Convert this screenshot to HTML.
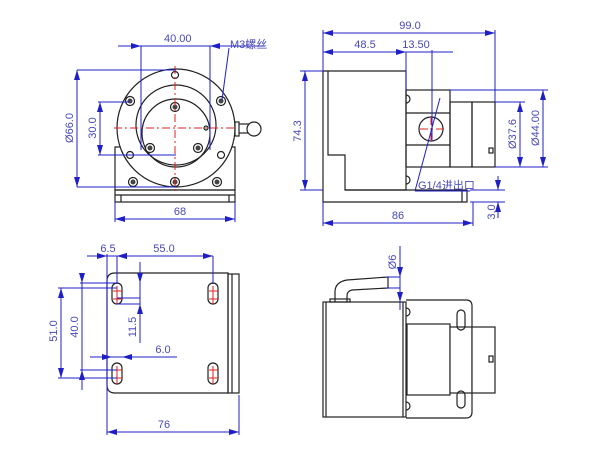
<!DOCTYPE html>
<html><head><meta charset="utf-8"><style>
html,body{margin:0;padding:0;background:#fff;}
svg{display:block;}
text{font-family:"Liberation Sans","Noto Sans CJK SC",sans-serif;font-size:11px;fill:#4848b8;}
</style></head><body>
<svg width="602" height="458" viewBox="0 0 602 458" xmlns="http://www.w3.org/2000/svg">
<defs>
<marker id="a" viewBox="0 0 10 6" refX="10" refY="3" markerWidth="10" markerHeight="6" orient="auto-start-reverse" markerUnits="userSpaceOnUse"><path d="M0,0 L10,3 L0,6z" fill="#1f1fc8"/></marker>
</defs>

<!-- drawing geometry -->
<g stroke="#222" stroke-width="1.2" fill="none">
<rect x="115" y="147" width="120" height="43"/>
<line x1="115" y1="195" x2="235" y2="195"/>
<rect x="115" y="190" width="120" height="12"/>
<line x1="121" y1="195" x2="121" y2="202"/><line x1="229" y1="195" x2="229" y2="202"/>
<circle cx="176" cy="128" r="59" fill="#fff"/>
<circle cx="176" cy="125" r="40"/>
<circle cx="176" cy="133" r="34"/>
<rect x="235" y="122" width="4" height="14"/>
<line x1="239" y1="124" x2="252" y2="124"/><line x1="239" y1="133" x2="252" y2="133"/>
<circle cx="254" cy="129" r="7" fill="#fff"/>
<circle cx="130" cy="155" r="3.5"/><circle cx="221" cy="155" r="3.5"/><circle cx="175" cy="75" r="3.5"/>
<circle cx="206" cy="128" r="2"/>
</g>
<g stroke="#222" stroke-width="1.2" fill="#fff">
<circle cx="130" cy="101" r="4.5"/><circle cx="221" cy="101" r="4.5"/><circle cx="175" cy="107" r="4.5"/>
<circle cx="150" cy="148" r="4.5"/><circle cx="198" cy="148" r="4.5"/>
<circle cx="133" cy="182" r="4.5"/><circle cx="175" cy="182" r="4.5"/><circle cx="217" cy="182" r="4.5"/>
</g>
<g fill="#444">
<circle cx="130" cy="101" r="2.5"/><circle cx="221" cy="101" r="2.5"/><circle cx="175" cy="107" r="2.5"/>
<circle cx="150" cy="148" r="2.5"/><circle cx="198" cy="148" r="2.5"/>
<circle cx="133" cy="182" r="2.5"/><circle cx="175" cy="182" r="2.5"/><circle cx="217" cy="182" r="2.5"/>
</g>
<g stroke="#222" stroke-width="1.2" fill="none">
<path d="M323,71 L406,71 L406,190 L345,190 L345,155 L328,155 L328,71"/>
<line x1="323" y1="71" x2="323" y2="190"/>
<path d="M323,190 L323,202 L467,202 L467,190 L345,190"/>
<line x1="462" y1="190" x2="462" y2="202"/>
<rect x="406" y="90" width="44" height="77"/>
<line x1="406" y1="113" x2="450" y2="113"/><line x1="406" y1="145" x2="450" y2="145"/>
<rect x="450" y="102" width="22" height="65"/>
<rect x="472" y="102" width="23" height="65"/>
<rect x="489" y="148" width="4" height="5"/>
<circle cx="431" cy="129" r="12"/>
<path d="M406,95 a3,3 0 0 1 0,8"/><path d="M406,176 a3,3 0 0 1 0,8"/>
<path d="M115,273 L228,273 L228,393 L115,393 Q107,393 107,385 L107,281 Q107,273 115,273Z"/>
<rect x="228" y="274" width="11" height="119"/>
<line x1="232" y1="274" x2="232" y2="393"/>
<rect x="112" y="283" width="10" height="21" rx="5"/>
<rect x="208" y="283" width="10" height="21" rx="5"/>
<rect x="112" y="363" width="10" height="21" rx="5"/>
<rect x="208" y="363" width="10" height="21" rx="5"/>
<path d="M406,300 L466,300 Q472,300 472,306 L472,412 Q472,418 466,418 L406,418"/>
<rect x="323" y="302" width="83" height="115" fill="#fff"/>
<line x1="326" y1="302" x2="326" y2="417"/><line x1="403" y1="302" x2="403" y2="417"/>
<rect x="407" y="324" width="43" height="71" fill="#fff"/>
<rect x="450" y="327" width="22" height="66" fill="#fff"/>
<rect x="472" y="327" width="23" height="66" fill="#fff"/>
<rect x="489" y="356" width="4" height="6"/>
<rect x="457" y="310" width="8" height="20" rx="4"/>
<rect x="457" y="391" width="8" height="17" rx="4"/>
<path d="M335,302 L335,292 Q335,282 347,280 L388,277 L388,288 L352,290 Q347,291 347,296 L347,302"/>
<rect x="330" y="299" width="20" height="3"/>
<path d="M406,308 a3,3 0 0 1 0,8"/><path d="M406,402 a3,3 0 0 1 0,8"/>
</g>

<!-- red center lines -->
<g stroke="#e02020" stroke-width="1" stroke-dasharray="8,3,2,3" fill="none">
<line x1="114" y1="128" x2="237" y2="128"/>
<line x1="175" y1="66" x2="175" y2="192"/>
<line x1="420" y1="129" x2="444" y2="129"/>
<line x1="431" y1="117" x2="431" y2="142"/>
</g>
<g stroke="#e02020" stroke-width="1" fill="none">
<line x1="117" y1="286" x2="117" y2="304"/><line x1="113" y1="291" x2="122" y2="291"/><line x1="113" y1="299" x2="122" y2="299"/>
<line x1="213" y1="286" x2="213" y2="304"/><line x1="209" y1="291" x2="218" y2="291"/><line x1="209" y1="299" x2="218" y2="299"/>
<line x1="117" y1="366" x2="117" y2="384"/><line x1="113" y1="370" x2="122" y2="370"/><line x1="113" y1="378" x2="122" y2="378"/>
<line x1="213" y1="366" x2="213" y2="384"/><line x1="209" y1="370" x2="218" y2="370"/><line x1="209" y1="378" x2="218" y2="378"/>
</g>

<g stroke="#1f1fc8" stroke-width="1" fill="none">
<line x1="118" y1="46" x2="227" y2="46"/>
<line x1="126" y1="46" x2="141" y2="46" marker-end="url(#a)"/>
<line x1="225" y1="46" x2="210" y2="46" marker-end="url(#a)"/>
<line x1="141" y1="46" x2="141" y2="150"/>
<line x1="210" y1="46" x2="210" y2="150"/>
<line x1="227" y1="46" x2="265" y2="46"/>
<line x1="229" y1="48" x2="222" y2="100"/>
<line x1="77" y1="70" x2="176" y2="70"/>
<line x1="77" y1="187" x2="176" y2="187"/>
<line x1="77" y1="128" x2="77" y2="70" marker-end="url(#a)"/>
<line x1="77" y1="128" x2="77" y2="187" marker-end="url(#a)"/>
<line x1="98" y1="102" x2="130" y2="102"/>
<line x1="98" y1="155" x2="176" y2="155"/>
<line x1="100" y1="128" x2="100" y2="102" marker-end="url(#a)"/>
<line x1="100" y1="128" x2="100" y2="155" marker-end="url(#a)"/>
<line x1="115" y1="202" x2="115" y2="222"/>
<line x1="235" y1="202" x2="235" y2="222"/>
<line x1="175" y1="219" x2="115" y2="219" marker-end="url(#a)"/>
<line x1="175" y1="219" x2="235" y2="219" marker-end="url(#a)"/>
<line x1="323" y1="30" x2="323" y2="71"/>
<line x1="495" y1="30" x2="495" y2="102"/>
<line x1="410" y1="33" x2="323" y2="33" marker-end="url(#a)"/>
<line x1="410" y1="33" x2="495" y2="33" marker-end="url(#a)"/>
<line x1="323" y1="52" x2="453" y2="52"/>
<line x1="335" y1="52" x2="323" y2="52" marker-end="url(#a)"/>
<line x1="395" y1="52" x2="406" y2="52" marker-end="url(#a)"/>
<line x1="406" y1="52" x2="406" y2="90"/>
<line x1="432" y1="50" x2="432" y2="140"/>
<line x1="300" y1="71" x2="323" y2="71"/>
<line x1="300" y1="190" x2="323" y2="190"/>
<line x1="305" y1="130" x2="305" y2="71" marker-end="url(#a)"/>
<line x1="305" y1="130" x2="305" y2="190" marker-end="url(#a)"/>
<line x1="495" y1="102" x2="525" y2="102"/>
<line x1="495" y1="167" x2="548" y2="167"/>
<line x1="450" y1="90" x2="548" y2="90"/>
<line x1="520" y1="134" x2="520" y2="102" marker-end="url(#a)"/>
<line x1="520" y1="134" x2="520" y2="167" marker-end="url(#a)"/>
<line x1="543" y1="128" x2="543" y2="90" marker-end="url(#a)"/>
<line x1="543" y1="128" x2="543" y2="167" marker-end="url(#a)"/>
<line x1="415" y1="191" x2="440" y2="98"/>
<line x1="415" y1="191" x2="470" y2="191"/>
<line x1="323" y1="202" x2="323" y2="226"/>
<line x1="473" y1="202" x2="473" y2="226"/>
<line x1="398" y1="223" x2="323" y2="223" marker-end="url(#a)"/>
<line x1="398" y1="223" x2="473" y2="223" marker-end="url(#a)"/>
<line x1="470" y1="190" x2="505" y2="190"/>
<line x1="470" y1="202" x2="505" y2="202"/>
<line x1="498" y1="176" x2="498" y2="190" marker-end="url(#a)"/>
<line x1="498" y1="218" x2="498" y2="202" marker-end="url(#a)"/>
<line x1="87" y1="256" x2="213" y2="256"/>
<line x1="95" y1="256" x2="107" y2="256" marker-end="url(#a)"/>
<line x1="130" y1="256" x2="117" y2="256" marker-end="url(#a)"/>
<line x1="165" y1="256" x2="117" y2="256" marker-end="url(#a)"/>
<line x1="165" y1="256" x2="213" y2="256" marker-end="url(#a)"/>
<line x1="107" y1="254" x2="107" y2="435"/>
<line x1="117" y1="256" x2="117" y2="284"/>
<line x1="213" y1="256" x2="213" y2="284"/>
<line x1="58" y1="288" x2="117" y2="288"/>
<line x1="58" y1="378" x2="117" y2="378"/>
<line x1="80" y1="283" x2="117" y2="283"/>
<line x1="80" y1="370" x2="117" y2="370"/>
<line x1="61" y1="333" x2="61" y2="288" marker-end="url(#a)"/>
<line x1="61" y1="333" x2="61" y2="378" marker-end="url(#a)"/>
<line x1="82" y1="277" x2="82" y2="283" marker-end="url(#a)"/>
<line x1="82" y1="275" x2="82" y2="370"/>
<line x1="82" y1="390" x2="82" y2="370" marker-end="url(#a)"/>
<line x1="117" y1="298" x2="140" y2="298"/>
<line x1="140" y1="262" x2="140" y2="343"/>
<line x1="140" y1="268" x2="140" y2="283" marker-end="url(#a)"/>
<line x1="140" y1="320" x2="140" y2="304" marker-end="url(#a)"/>
<line x1="117" y1="304" x2="140" y2="304"/>
<line x1="90" y1="357" x2="177" y2="357"/>
<line x1="98" y1="357" x2="112" y2="357" marker-end="url(#a)"/>
<line x1="132" y1="357" x2="122" y2="357" marker-end="url(#a)"/>
<line x1="239" y1="395" x2="239" y2="435"/>
<line x1="170" y1="432" x2="107" y2="432" marker-end="url(#a)"/>
<line x1="170" y1="432" x2="239" y2="432" marker-end="url(#a)"/>
<line x1="400" y1="246" x2="400" y2="310"/>
<line x1="400" y1="262" x2="400" y2="277" marker-end="url(#a)"/>
<line x1="400" y1="288" x2="400" y2="302" marker-end="url(#a)"/>
<line x1="386" y1="277" x2="400" y2="277"/>
<line x1="386" y1="288" x2="400" y2="288"/>
</g>

<text x="164" y="42">40.00</text>
<text x="230" y="48">M3螺丝</text>
<text x="180" y="215" text-anchor="middle">68</text>
<text transform="translate(73,128) rotate(-90)" text-anchor="middle">Ø66.0</text>
<text transform="translate(96,128) rotate(-90)" text-anchor="middle">30.0</text>
<text x="410" y="29" text-anchor="middle">99.0</text>
<text x="365" y="48" text-anchor="middle">48.5</text>
<text x="416" y="48" text-anchor="middle">13.50</text>
<text transform="translate(301,131) rotate(-90)" text-anchor="middle">74.3</text>
<text transform="translate(516,134) rotate(-90)" text-anchor="middle">Ø37.6</text>
<text transform="translate(539,128) rotate(-90)" text-anchor="middle">Ø44.00</text>
<text x="418" y="189">G1/4进出口</text>
<text x="398" y="219" text-anchor="middle">86</text>
<text transform="translate(495,212) rotate(-90)" text-anchor="middle">3.0</text>
<text x="108" y="252" text-anchor="middle">6.5</text>
<text x="164" y="252" text-anchor="middle">55.0</text>
<text transform="translate(57,331) rotate(-90)" text-anchor="middle">51.0</text>
<text transform="translate(78,327) rotate(-90)" text-anchor="middle">40.0</text>
<text transform="translate(136,327) rotate(-90)" text-anchor="middle">11.5</text>
<text x="163" y="353" text-anchor="middle">6.0</text>
<text x="164" y="428" text-anchor="middle">76</text>
<text transform="translate(396,262) rotate(-90)" text-anchor="middle">Ø6</text>
</svg>
</body></html>
